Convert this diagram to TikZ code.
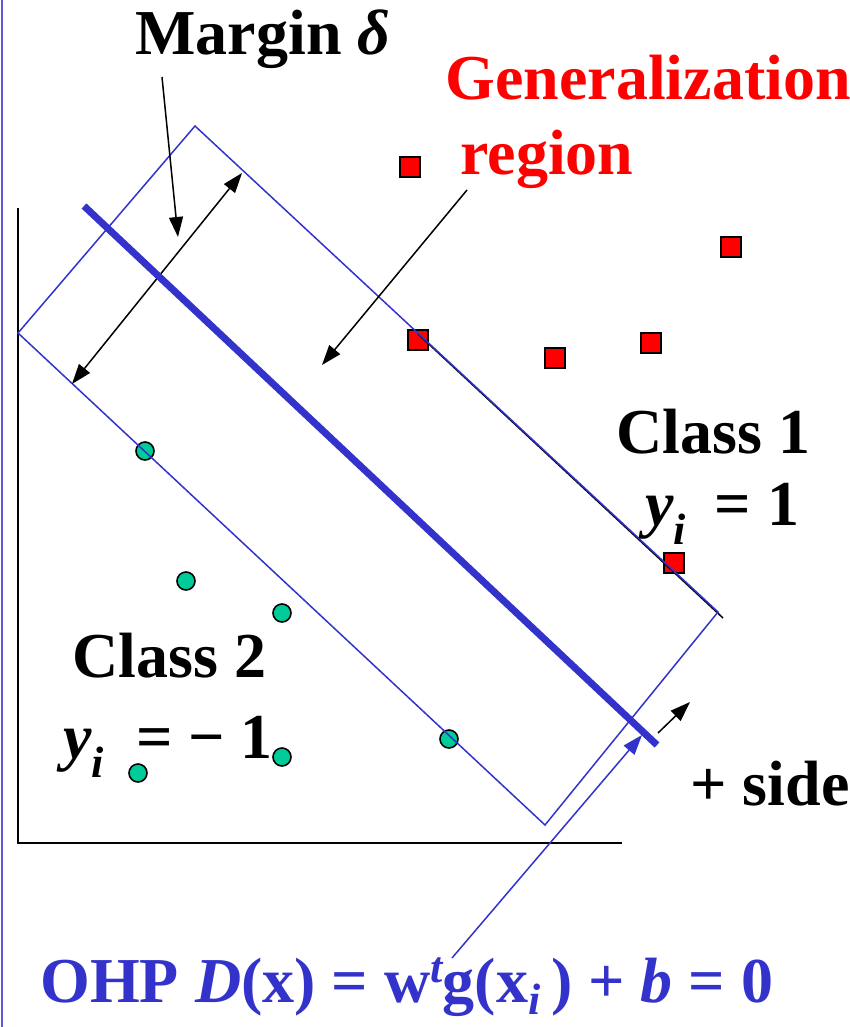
\documentclass[tikz,border=0pt]{standalone}
\usepackage{fontspec}
\setmainfont{Liberation Serif}
\usetikzlibrary{arrows.meta,positioning}
\definecolor{ohpblue}{RGB}{51,51,204}
\definecolor{clsred}{RGB}{255,0,0}
\definecolor{clsgreen}{RGB}{0,204,153}
\newcommand{\yi}{{\itshape y}\raisebox{-0.3em}{\fontsize{22}{24}\selectfont\itshape i}}
\tikzset{
  lab/.style={font=\bfseries\fontsize{32}{36}\selectfont,inner sep=0pt,anchor=base west,text=black},
  sq/.style={draw=black,line width=1pt,fill=clsred,minimum size=10pt,inner sep=0pt},
  dot/.style={draw=black,line width=0.8pt,fill=clsgreen,circle,minimum size=9pt,inner sep=0pt},
  band/.style={draw=ohpblue,line width=0.75pt},
  ohp/.style={draw=ohpblue,line width=3.5pt},
  arr/.style={-{Triangle[length=10pt,width=7pt]},line width=0.75pt,draw=black},
  axis/.style={draw=black,line width=0.75pt},
}

\begin{document}
\begin{tikzpicture}[x=0.5pt,y=-0.5pt]
    \useasboundingbox (0,0) rectangle (850,1027);
    \draw[draw=ohpblue!80,line width=1pt] (1.5,0) -- (1.5,1027);
    % axes
    \coordinate (ytop) at (18,208);
    \coordinate (orig) at (18,843);
    \coordinate (xend) at (622,843);
    \draw[axis] (ytop) -- (orig) -- (xend);
    % class 1 samples
    \node[sq] (r1) at (410,167) {};
    \node[sq] (r2) at (731,247) {};
    \node[sq] (r3) at (418,340) {};
    \node[sq] (r4) at (555,358) {};
    \node[sq] (r5) at (651,343) {};
    \node[sq] (r6) at (674,563) {};
    % class 2 samples
    \node[dot] (g1) at (145,451) {};
    \node[dot] (g2) at (186,581) {};
    \node[dot] (g3) at (282,613) {};
    \node[dot] (g4) at (282,757) {};
    \node[dot] (g5) at (138,773) {};
    \node[dot] (g6) at (449,739) {};
    % margin band
    \coordinate (bt) at (195,126);
    \coordinate (br) at (718,612);
    \coordinate (bb) at (545,825);
    \coordinate (bl) at (18,333);
    \coordinate (bs) at (418,334);
    \coordinate (bx) at (723,618);
    \draw[axis] (bs) -- (bx);
    \draw[band] (bt) -- (br) -- (bb) -- (bl) -- cycle;
    % margin arrows
    \coordinate (mlow) at (72,384);
    \coordinate (mup) at (242,173);
    \draw[arr,{Triangle[length=10pt,width=7pt]}-{Triangle[length=10pt,width=7pt]}] (mlow) -- (mup);
    % optimal hyperplane
    \coordinate (h1) at (84,206);
    \coordinate (h2) at (657,745);
    \draw[ohp] (h1) -- (h2);
    % labels
    \node[lab] (margin) at (135,55) {Margin {\itshape δ}};
    \node[lab,text=clsred] (gen) at (445,100) {Generalization};
    \node[lab,text=clsred] (region) at (460,175) {region};
    \node[lab] (cls1) at (616,453) {Class 1};
    \node[lab] (y1) at (645,525) {\yi\hspace{0.45em}= 1};
    \node[lab] (cls2) at (72,677) {Class 2};
    \node[lab] (y2) at (63,758) {\yi\hspace{0.5em}= − 1};
    \node[lab] (side) at (690,805) {+ side};
    \node[lab,text=ohpblue] (eq) at (40,1002) {OHP {\itshape D}(x) = w\raisebox{0.3em}{\fontsize{22}{24}\selectfont\itshape t}g(x\raisebox{-0.2em}{\fontsize{22}{24}\selectfont\itshape i}\,) + {\itshape b} = 0};
    % pointers
    \coordinate (mtail) at (162,77);
    \coordinate (mtip) at (178,237);
    \draw[arr] (mtail) -- (mtip);
    \coordinate (gtail) at (467,190);
    \coordinate (gtip) at (322,365);
    \draw[arr] (gtail) -- (gtip);
    \coordinate (stail) at (658,733);
    \coordinate (stip) at (690,702);
    \draw[arr] (stail) -- (stip);
    \coordinate (etail) at (452,958);
    \coordinate (etip) at (642,735);
    \draw[arr,draw=ohpblue,fill=ohpblue] (etail) -- (etip);
  \end{tikzpicture}
\end{document}
